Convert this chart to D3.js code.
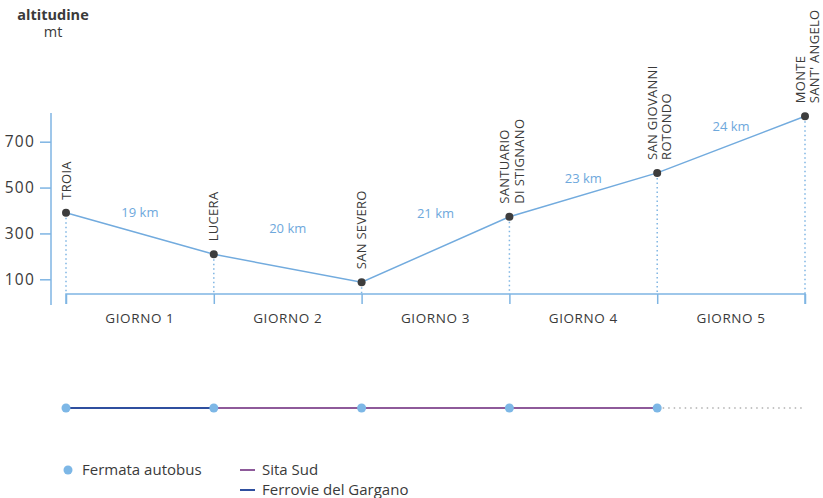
<!DOCTYPE html>
<html>
<head>
<meta charset="utf-8">
<script src="https://cdn.jsdelivr.net/npm/d3@7"></script>
<style>
  body { margin: 0; background: #fff; }
  text { font-family: "Open Sans", "Noto Sans", sans-serif; }
</style>
</head>
<body>
<div id="chart"></div>
<script>
// tappe del cammino
const stations = ["TROIA", "LUCERA", "SAN SEVERO", "SANTUARIO|DI STIGNANO", "SAN GIOVANNI|ROTONDO", "MONTE|SANT' ANGELO"];
const altitudes = [390, 209, 87, 373, 564, 811];
const distances = ["19 km", "20 km", "21 km", "23 km", "24 km"];
const days = ["GIORNO 1", "GIORNO 2", "GIORNO 3", "GIORNO 4", "GIORNO 5"];
const yTicks = [100, 300, 500, 700];

// linea autobus
const busStops = [true, true, true, true, true, false];
const busOperators = ["Ferrovie del Gargano", "Sita Sud", "Sita Sud", "Sita Sud", null];
const legendLines = ["Sita Sud", "Ferrovie del Gargano"];

const W = 823, H = 498;
const colors = {
  axis: "#7fb5e3",
  line: "#72abde",
  km: "#6ea8dc",
  text: "#3a3a3a",
  point: "#3d3d3d",
  bus: "#7db7e6",
  "Sita Sud": "#8e5a9a",
  "Ferrovie del Gargano": "#2f4f9f",
  none: "#b0b0b0"
};
// spostamento verticale delle etichette km rispetto al centro del tratto
const kmLift = [17, 35, 31, 12, 14];

const svg = d3.select("#chart").append("svg")
  .attr("width", W).attr("height", H);

const x = d3.scalePoint().domain(stations).range([66, 805]);
const y = d3.scaleLinear().domain([100, 700]).range([279.3, 141.7]);
const baseY = 294;

// titolo asse
svg.append("text").attr("x", 53).attr("y", 19.5).attr("text-anchor", "middle")
  .attr("font-size", 14.5).attr("font-weight", "bold").attr("fill", colors.text)
  .text("altitudine");
svg.append("text").attr("x", 53).attr("y", 37).attr("text-anchor", "middle")
  .attr("font-size", 14.5).attr("fill", colors.text).text("mt");

// asse y
const yAxis = svg.append("g").attr("transform", "translate(51,0)")
  .call(d3.axisLeft(y).tickValues(yTicks).tickSize(11).tickPadding(5));
yAxis.select(".domain").remove();
yAxis.append("line").attr("y1", 113).attr("y2", 305).attr("stroke", colors.axis).attr("stroke-width", 1.5);
yAxis.selectAll(".tick line").attr("stroke", colors.axis).attr("stroke-width", 1.5);
yAxis.selectAll(".tick text").attr("font-size", 15.5).attr("fill", colors.text)
  .attr("letter-spacing", 1.2).attr("font-family", "Open Sans, sans-serif");

// asse dei giorni
const xAxis = svg.append("g").attr("transform", `translate(0,${baseY})`)
  .call(d3.axisBottom(x).tickSize(10).tickFormat(""));
xAxis.select(".domain").attr("stroke", colors.axis).attr("stroke-width", 1.5)
  .attr("d", `M${x(stations[0])},10V0H${x(stations[5])}V10`);
xAxis.selectAll(".tick line").attr("stroke", colors.axis).attr("stroke-width", 1.5);

svg.append("g").selectAll("text").data(days).join("text")
  .attr("x", (d, i) => (x(stations[i]) + x(stations[i + 1])) / 2)
  .attr("y", 323)
  .attr("text-anchor", "middle")
  .attr("font-size", 13.5).attr("letter-spacing", 0.6).attr("fill", colors.text)
  .text(d => d);

// linee tratteggiate verticali
svg.append("g").selectAll("line").data(stations).join("line")
  .attr("x1", d => x(d)).attr("x2", d => x(d))
  .attr("y1", (d, i) => y(altitudes[i]) + 5).attr("y2", baseY)
  .attr("stroke", colors.axis).attr("stroke-width", 1.5)
  .attr("stroke-dasharray", "1.5,3");

// profilo altimetrico
const pts = stations.map((s, i) => [x(s), y(altitudes[i])]);
svg.append("path").attr("d", d3.line()(pts))
  .attr("fill", "none").attr("stroke", colors.line).attr("stroke-width", 1.5);

svg.append("g").selectAll("circle").data(pts).join("circle")
  .attr("cx", d => d[0]).attr("cy", d => d[1]).attr("r", 4)
  .attr("fill", colors.point);

// distanze
svg.append("g").selectAll("text").data(distances).join("text")
  .attr("x", (d, i) => (pts[i][0] + pts[i + 1][0]) / 2)
  .attr("y", (d, i) => (pts[i][1] + pts[i + 1][1]) / 2 - kmLift[i])
  .attr("text-anchor", "middle").attr("font-size", 13).attr("fill", colors.km)
  .text(d => d);

// nomi delle tappe
const labels = svg.append("g").selectAll("text").data(stations).join("text")
  .attr("transform", (d, i) => `translate(${pts[i][0]},${pts[i][1] - 13}) rotate(-90)`)
  .attr("font-size", 13).attr("letter-spacing", 0.3).attr("fill", colors.text);
labels.each(function(d) {
  const lines = d.split("|");
  const t = d3.select(this);
  lines.forEach((l, j) => {
    t.append("tspan").attr("x", 0)
      .attr("dy", lines.length === 1 ? "0.36em" : (j === 0 ? "0em" : "1.1em"))
      .text(l);
  });
});

// linea autobus
const busY = 408;
svg.append("g").selectAll("line").data(busOperators).join("line")
  .attr("x1", (d, i) => x(stations[i])).attr("x2", (d, i) => x(stations[i + 1]))
  .attr("y1", busY).attr("y2", busY)
  .attr("stroke", d => d ? colors[d] : colors.none)
  .attr("stroke-width", d => d ? 2 : 1.5)
  .attr("stroke-dasharray", d => d ? null : "1.5,4");

svg.append("g").selectAll("circle").data(stations.filter((s, i) => busStops[i])).join("circle")
  .attr("cx", d => x(d)).attr("cy", busY).attr("r", 4.5).attr("fill", colors.bus);

// legenda
const legY = 470;
svg.append("circle").attr("cx", 68).attr("cy", legY).attr("r", 4.5).attr("fill", colors.bus);
svg.append("text").attr("x", 82).attr("y", legY).attr("dy", "0.36em")
  .attr("font-size", 15).attr("fill", colors.text).text("Fermata autobus");

const leg = svg.append("g").selectAll("g").data(legendLines).join("g")
  .attr("transform", (d, i) => `translate(240,${legY + i * 20})`);
leg.append("line").attr("x1", 0).attr("x2", 15)
  .attr("stroke", d => colors[d]).attr("stroke-width", 2);
leg.append("text").attr("x", 22).attr("dy", "0.36em")
  .attr("font-size", 15).attr("fill", colors.text).text(d => d);
</script>
</body>
</html>
